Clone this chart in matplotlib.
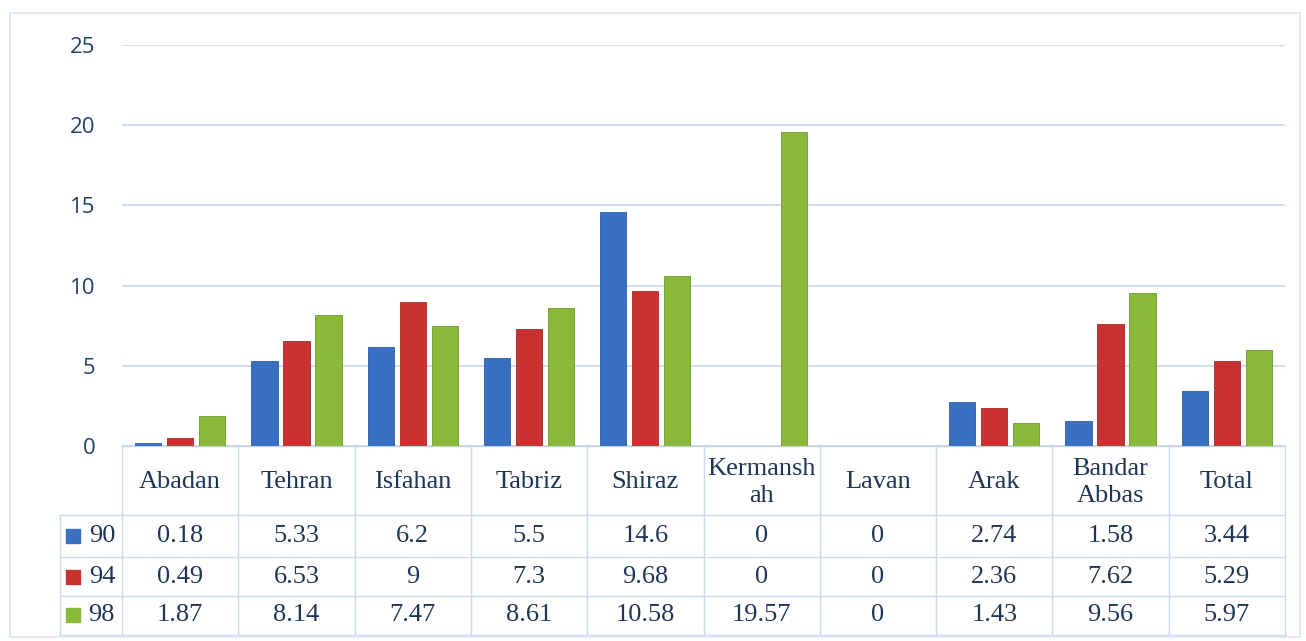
import matplotlib.pyplot as plt
from matplotlib.patches import Rectangle

# data
cities = ["Abadan", "Tehran", "Isfahan", "Tabriz", "Shiraz", "Kermansh\nah",
          "Lavan", "Arak", "Bandar\nAbbas", "Total"]
years = ["90", "94", "98"]
v90 = [0.18, 5.33, 6.2, 5.5, 14.6, 0, 0, 2.74, 1.58, 3.44]
v94 = [0.49, 6.53, 9, 7.3, 9.68, 0, 0, 2.36, 7.62, 5.29]
v98 = [1.87, 8.14, 7.47, 8.61, 10.58, 19.57, 0, 1.43, 9.56, 5.97]
yticks = [0, 5, 10, 15, 20, 25]

colors = ["#3a70c2", "#c93230", "#8ab838"]
edges = ["#2d5a9e", "#a32826", "#6f9a2a"]
grid_c = "#cfddf0"
txt_c = "#1e3556"

fig = plt.figure(figsize=(13.06, 6.41), dpi=100)
ax = fig.add_axes([122/1306, 1-446/641, 1163/1306, 401/641])

# outer frame
fig.patches.append(Rectangle((10/1306, 1-637/641), 1290/1306, 624/641,
                             transform=fig.transFigure, fill=False,
                             edgecolor="#dbe6f3", lw=1.2))

x = list(range(len(cities)))
w = 0.225
off = 0.275
for k, vals in enumerate([v90, v94, v98]):
    ax.bar([i + (k-1)*off for i in x], vals, width=w, color=colors[k],
           edgecolor=edges[k], lw=0.6, zorder=3)

ax.set_xlim(-0.5, len(cities)-0.5)
ax.set_ylim(0, 25)
ax.set_yticks(yticks)
ax.set_yticklabels([str(t) for t in yticks], fontfamily="Open Sans",
                   fontsize=16, color="#24416b")
ax.tick_params(axis="y", length=0, pad=19)
ax.set_xticks([])
ax.grid(axis="y", color=grid_c, lw=1.4, zorder=0)
for s in ["left", "right", "top"]:
    ax.spines[s].set_visible(False)
ax.spines["bottom"].set_color("#c9d3e0")

# data table below the axes
tr = ax.get_xaxis_transform()
row_y = [0, -0.172, -0.277, -0.374, -0.471]
legend_x = -0.5 - 62/116.3
line_c = "#cbdaee"
ax.plot([-0.5, len(cities)-0.5], [0, 0], transform=tr, color=line_c,
        lw=1, clip_on=False)
for yy in row_y[1:]:
    ax.plot([legend_x, len(cities)-0.5], [yy, yy], transform=tr,
            color=line_c, lw=1, clip_on=False)
for i in range(len(cities)+1):
    ax.plot([i-0.5, i-0.5], [0, row_y[-1]], transform=tr, color=line_c,
            lw=1, clip_on=False)
ax.plot([legend_x, legend_x], [row_y[1], row_y[-1]], transform=tr,
        color=line_c, lw=1, clip_on=False)

tfont = dict(fontfamily="Liberation Serif", fontsize=19, color=txt_c,
             ha="center", va="center", transform=tr, linespacing=1.3)
for i, c in enumerate(cities):
    ax.text(i, (row_y[0]+row_y[1])/2 - 0.005, c, **tfont)
for r, vals in enumerate([v90, v94, v98]):
    yc = (row_y[r+1] + row_y[r+2]) / 2
    for i, v in enumerate(vals):
        ax.text(i, yc, f"{v:g}", **tfont)
    ax.scatter([legend_x + 0.115], [yc], marker="s", s=95, color=colors[r],
               transform=tr, clip_on=False, zorder=4)
    ax.text(legend_x + 0.36, yc, years[r], **tfont)

fig.savefig("out.png", dpi=100)
